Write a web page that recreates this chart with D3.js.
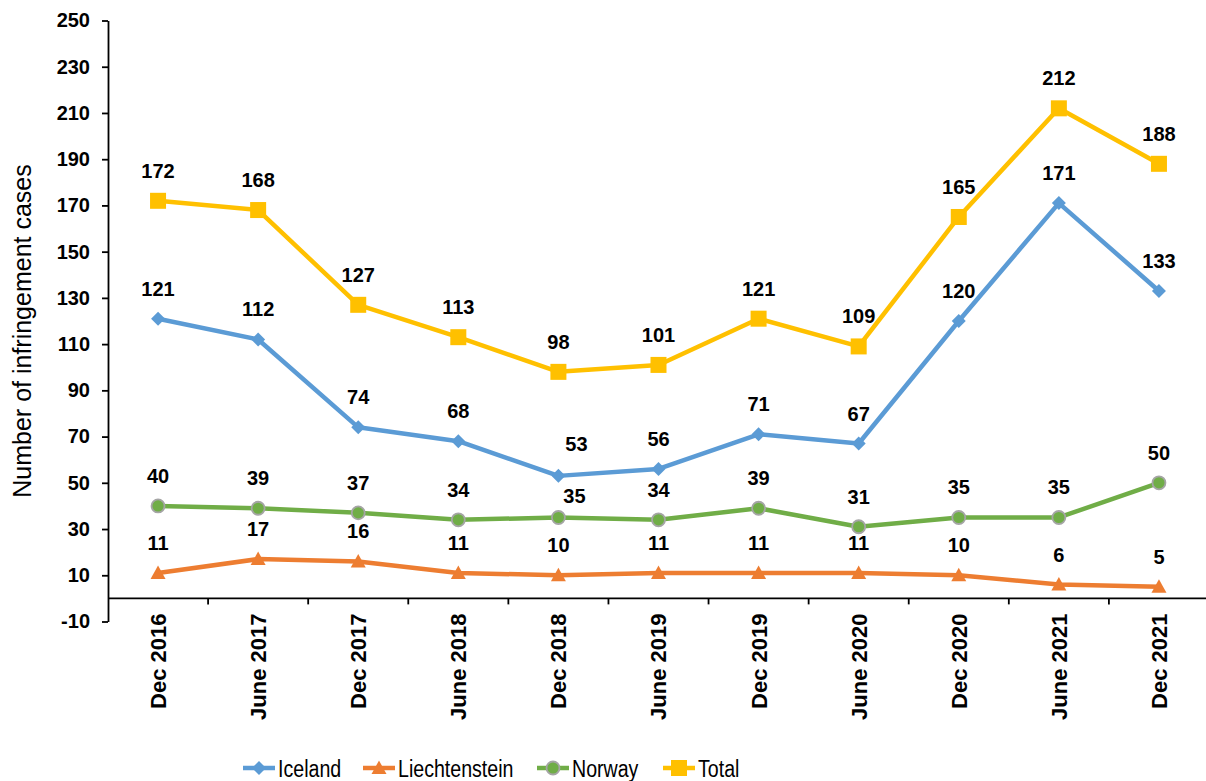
<!DOCTYPE html>
<html>
<head>
<meta charset="utf-8">
<script src="https://cdn.jsdelivr.net/npm/d3@7"></script>
<style>
  body { margin: 0; background: #fff; }
  svg { display: block; font-family: "Liberation Sans", Arial, sans-serif; }
</style>
</head>
<body>
<div id="chart"></div>
<script>
const categories = ["Dec 2016", "June 2017", "Dec 2017", "June 2018", "Dec 2018", "June 2019",
  "Dec 2019", "June 2020", "Dec 2020", "June 2021", "Dec 2021"];
const iceland = [121, 112, 74, 68, 53, 56, 71, 67, 120, 171, 133];
const liechtenstein = [11, 17, 16, 11, 10, 11, 11, 11, 10, 6, 5];
const norway = [40, 39, 37, 34, 35, 34, 39, 31, 35, 35, 50];
const total = [172, 168, 127, 113, 98, 101, 121, 109, 165, 212, 188];
const yTicks = [-10, 10, 30, 50, 70, 90, 110, 130, 150, 170, 190, 210, 230, 250];
const yTitle = "Number of infringement cases";

const series = [
  { name: "Iceland", values: iceland, color: "#5B9BD5", marker: "diamond" },
  { name: "Liechtenstein", values: liechtenstein, color: "#ED7D31", marker: "triangle" },
  { name: "Norway", values: norway, color: "#70AD47", marker: "circle" },
  { name: "Total", values: total, color: "#FFC000", marker: "square" }
];

// hand-moved labels in the original (dx, dy)
const labelNudge = { "Iceland-4": [18, -2], "Norway-4": [16, 9] };

const width = 1206, height = 781;
const plotLeft = 108, plotRight = 1209, plotTop = 20.5, plotBottom = 621.5;

const svg = d3.select("#chart").append("svg")
  .attr("width", width).attr("height", height);

const x = d3.scalePoint().domain(categories).range([plotLeft, plotRight]).padding(0.5);
const y = d3.scaleLinear().domain([-10, 250]).range([plotBottom, plotTop]);
const step = x.step();

// y axis
const yAxis = svg.append("g")
  .attr("transform", `translate(${plotLeft},0)`)
  .call(d3.axisLeft(y).tickValues(yTicks).tickFormat(d => String(d))
    .tickSize(6).tickPadding(12).tickSizeOuter(0));
yAxis.select(".domain").attr("stroke", "#000").attr("stroke-width", 1.8);
yAxis.selectAll(".tick line").attr("stroke", "#000").attr("stroke-width", 1.8);
yAxis.selectAll(".tick text")
  .attr("font-size", 20).attr("font-weight", "bold").attr("fill", "#000")
  .attr("font-family", "Liberation Sans, Arial, sans-serif");

// x axis at zero
const y0 = y(0);
svg.append("line")
  .attr("x1", plotLeft).attr("x2", width).attr("y1", y0).attr("y2", y0)
  .attr("stroke", "#000").attr("stroke-width", 1.8);
svg.append("g").selectAll("line")
  .data(categories)
  .join("line")
  .attr("x1", d => x(d) + step / 2).attr("x2", d => x(d) + step / 2)
  .attr("y1", y0).attr("y2", y0 + 6)
  .attr("stroke", "#000").attr("stroke-width", 1.8);

svg.append("g").selectAll("text")
  .data(categories)
  .join("text")
  .attr("transform", d => `translate(${x(d)},${plotBottom - 8}) rotate(-90)`)
  .attr("text-anchor", "end")
  .attr("dy", "0.36em")
  .attr("font-size", 22)
  .attr("font-weight", "bold")
  .attr("fill", "#000")
  .text(d => d);

// y title
svg.append("text")
  .attr("transform", `translate(22,${(plotTop + plotBottom) / 2 + 10}) rotate(-90)`)
  .attr("text-anchor", "middle")
  .attr("dy", "0.35em")
  .attr("font-size", 25)
  .attr("fill", "#000")
  .text(yTitle);

// markers
function drawMarker(g, type, color) {
  if (type === "diamond") {
    g.append("path").attr("d", "M0,-7L7,0L0,7L-7,0Z").attr("fill", color);
  } else if (type === "triangle") {
    g.append("path").attr("d", "M0,-7.5L7.5,6L-7.5,6Z").attr("fill", color);
  } else if (type === "circle") {
    g.append("circle").attr("r", 6.5).attr("fill", color)
      .attr("stroke", "#A5A5A5").attr("stroke-width", 1.8);
  } else {
    g.append("rect").attr("x", -8).attr("y", -8).attr("width", 16).attr("height", 16)
      .attr("fill", color);
  }
}

const line = d3.line().x((d, i) => x(categories[i])).y(d => y(d));

series.forEach(s => {
  const g = svg.append("g");
  g.append("path")
    .attr("d", line(s.values))
    .attr("fill", "none")
    .attr("stroke", s.color)
    .attr("stroke-width", 4.5)
    .attr("stroke-linejoin", "round");
  s.values.forEach((v, i) => {
    const m = g.append("g").attr("transform", `translate(${x(categories[i])},${y(v)})`);
    drawMarker(m, s.marker, s.color);
  });
});

// data labels on top
series.forEach(s => {
  svg.append("g").selectAll("text")
    .data(s.values)
    .join("text")
    .attr("x", (d, i) => x(categories[i]) + (labelNudge[s.name + "-" + i] || [0, 0])[0])
    .attr("y", (d, i) => y(d) - 23 + (labelNudge[s.name + "-" + i] || [0, 0])[1])
    .attr("text-anchor", "middle")
    .attr("font-size", 20)
    .attr("font-weight", "bold")
    .attr("fill", "#000")
    .text(d => d);
});

// legend
const legendX = [243, 363, 537, 663];
const legendY = 768;
const lg = svg.append("g");
series.forEach((s, i) => {
  const g = lg.append("g").attr("transform", `translate(${legendX[i]},${legendY})`);
  g.append("line").attr("x1", 0).attr("x2", 32).attr("y1", 0).attr("y2", 0)
    .attr("stroke", s.color).attr("stroke-width", 4.5);
  const m = g.append("g").attr("transform", "translate(16,0)");
  drawMarker(m, s.marker, s.color);
  g.append("text")
    .attr("transform", "translate(35,8.5) scale(0.8,1)")
    .attr("font-size", 24.5)
    .attr("fill", "#000")
    .text(s.name);
});
</script>
</body>
</html>
